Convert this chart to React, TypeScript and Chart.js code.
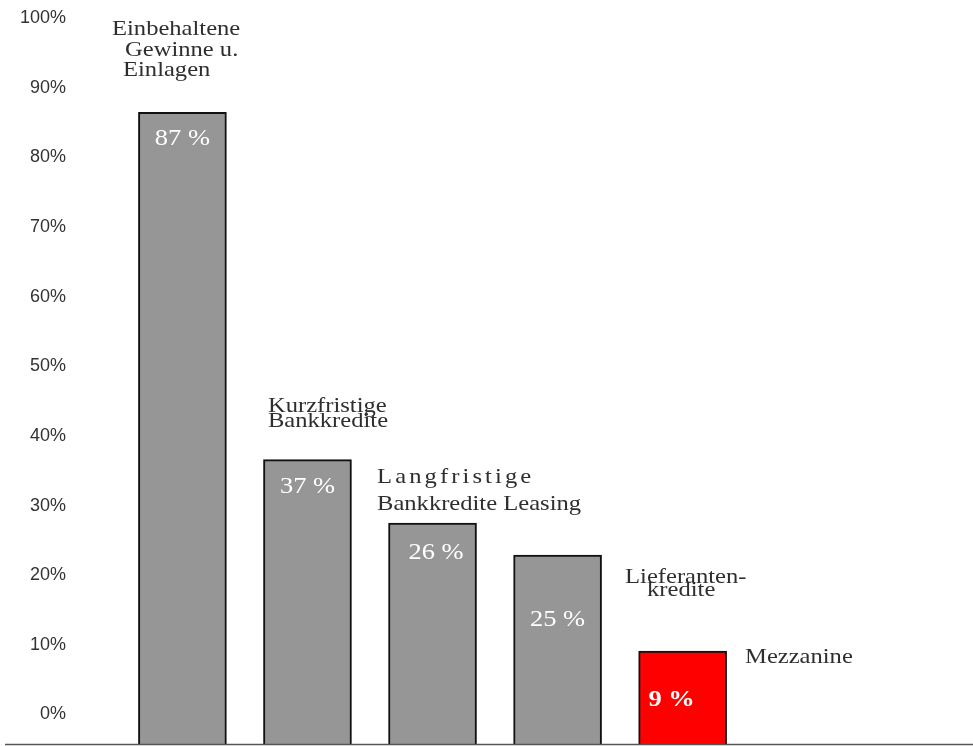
import React, { useEffect, useRef } from 'react';
import { Chart, registerables } from 'chart.js';

Chart.register(...registerables);

// ---- data ----
const categories = [
  'Einbehaltene Gewinne u. Einlagen',
  'Kurzfristige Bankkredite',
  'Langfristige Bankkredite Leasing',
  'Lieferanten-kredite',
  'Mezzanine',
];
const categoryLines = [
  ['Einbehaltene', 'Gewinne u.', 'Einlagen'],
  ['Kurzfristige', 'Bankkredite'],
  ['Langfristige', 'Bankkredite Leasing'],
  ['Lieferanten-', 'kredite'],
  ['Mezzanine'],
];
// stated shares (printed in the bars)
const sharesPercent = [87, 37, 26, 25, 9];
// bar heights as drawn in the picture (percent on the axis)
const barHeights = [86.5, 36.6, 27.5, 22.9, 9.1];
const highlighted = [false, false, false, false, true];
const yTickLabels = ['0%', '10%', '20%', '30%', '40%', '50%', '60%', '70%', '80%', '90%', '100%'];

// ---- layout / style ----
const W = 973;
const H = 746;
const Y_MIN = -4.24;
const Y_MAX = 101.19;
const X_MIN = -0.883;
const X_MAX = 6.322;
const GRAY = '#969696';
const RED = '#ff0000';
const TEXT = '#333333';
const CAT_TEXT = '#2e2e2e';
const SERIF = '"Liberation Serif", "Times New Roman", serif';
const SANS = '"Liberation Sans", Arial, sans-serif';
const CAT_SX = 1.17;
const VAL_SX = 1.15;

// offsets of category label lines: dx from bar centre (left edge of text), dy from bar top (baseline)
const catLayout = [
  [{ dx: -70.4, dy: -77 }, { dx: -57.4, dy: -56.5 }, { dx: -59.4, dy: -36 }],
  [{ dx: -39.5, dy: -48 }, { dx: -39.5, dy: -33 }],
  [{ dx: -55.5, dy: -40, ls: 3.1 }, { dx: -55.5, dy: -13 }],
  [{ dx: 67.5, dy: 28 }, { dx: 89.5, dy: 41 }],
  [{ dx: 62.4, dy: 12 }],
];
const valLayout = [
  { dx: 0, dy: 33 },
  { dx: 0, dy: 33 },
  { dx: 3.5, dy: 36 },
  { dx: 0, dy: 71 },
  { dx: -11, dy: 55 },
];

function drawStretched(
  ctx: CanvasRenderingContext2D,
  text: string,
  x: number,
  y: number,
  font: string,
  color: string,
  sx: number,
  align: CanvasTextAlign,
  spacing = 0
) {
  ctx.save();
  ctx.font = font;
  ctx.fillStyle = color;
  ctx.textBaseline = 'alphabetic';
  if (spacing) {
    let cx = x;
    for (const ch of text) {
      ctx.save();
      ctx.translate(cx, y);
      ctx.scale(sx, 1);
      ctx.textAlign = 'left';
      ctx.fillText(ch, 0, 0);
      ctx.restore();
      cx += ctx.measureText(ch).width * sx + spacing;
    }
  } else {
    ctx.translate(x, y);
    ctx.scale(sx, 1);
    ctx.textAlign = align;
    ctx.fillText(text, 0, 0);
  }
  ctx.restore();
}

const overlayPlugin = {
  id: 'overlay',
  afterDatasetsDraw(chart: any) {
    const ctx: CanvasRenderingContext2D = chart.ctx;
    const meta = chart.getDatasetMeta(0);
    const yScale = chart.scales.y;

    // baseline
    ctx.save();
    ctx.strokeStyle = '#555555';
    ctx.lineWidth = 1.6;
    ctx.beginPath();
    ctx.moveTo(5, yScale.bottom + 0.5);
    ctx.lineTo(chart.width, yScale.bottom + 0.5);
    ctx.stroke();
    ctx.restore();

    meta.data.forEach((bar: any, i: number) => {
      const cx = bar.x;
      const top = bar.y;
      // value label
      const v = valLayout[i];
      const bold = highlighted[i];
      drawStretched(
        ctx,
        `${sharesPercent[i]} %`,
        cx + v.dx,
        top + v.dy,
        `${bold ? 'bold ' : ''}23px ${SERIF}`,
        '#ffffff',
        VAL_SX,
        'center'
      );
      // category label
      categoryLines[i].forEach((line, j) => {
        const l: any = catLayout[i][j];
        drawStretched(ctx, line, cx + l.dx, top + l.dy, `21px ${SERIF}`, CAT_TEXT, CAT_SX, 'left', l.ls || 0);
      });
    });
  },
};

export default function App() {
  const ref = useRef<HTMLCanvasElement | null>(null);

  useEffect(() => {
    if (!ref.current) return;
    const chart = new Chart(ref.current, {
      type: 'bar',
      data: {
        labels: categories,
        datasets: [
          {
            data: barHeights.map((v, i) => ({ x: i, y: v })),
            backgroundColor: barHeights.map((_, i) => (highlighted[i] ? RED : GRAY)),
            borderColor: '#111111',
            borderWidth: 2,
            barThickness: 88,
            base: Y_MIN,
          } as any,
        ],
      },
      options: {
        animation: false,
        responsive: false,
        devicePixelRatio: 1,
        layout: { padding: { top: 10, bottom: 2, left: 0, right: 0 } },
        plugins: {
          legend: { display: false },
          tooltip: { enabled: false },
        },
        scales: {
          x: {
            type: 'linear',
            display: false,
            min: X_MIN,
            max: X_MAX,
            offset: false,
          },
          y: {
            min: Y_MIN,
            max: Y_MAX,
            grid: { display: false, drawTicks: false },
            border: { display: false },
            ticks: {
              stepSize: 10,
              includeBounds: false,
              padding: 6,
              color: TEXT,
              font: { family: SANS, size: 18 },
              callback: (value: any) => yTickLabels[Math.round(Number(value) / 10)] ?? '',
            },
            afterFit: (s: any) => {
              s.width = 72;
              s.paddingTop = 0;
              s.paddingBottom = 0;
            },
          },
        },
      } as any,
      plugins: [overlayPlugin],
    });
    return () => chart.destroy();
  }, []);

  return (
    <div style={{ position: 'fixed', left: 0, top: 0, width: W, height: H, background: '#fff' }}>
      <canvas ref={ref} width={W} height={H} style={{ display: 'block', width: W, height: H }} />
    </div>
  );
}
